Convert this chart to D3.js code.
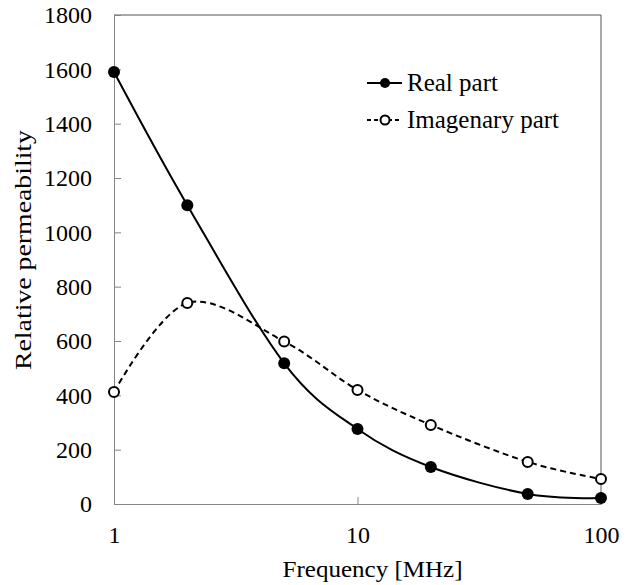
<!DOCTYPE html>
<html>
<head>
<meta charset="utf-8">
<script src="https://cdn.jsdelivr.net/npm/d3@7"></script>
<style>
  body { margin: 0; background: #fff; }
  svg { display: block; }
</style>
</head>
<body>
<div id="chart"></div>
<script>
const freqs = [1, 2, 5, 10, 20, 50, 100]
const realPart = [1590, 1100, 518, 276, 136, 37, 22]
const imagPart = [412, 740, 598, 420, 291, 155, 92]
const yTicks = [0, 200, 400, 600, 800, 1000, 1200, 1400, 1600, 1800]
const xTicks = [1, 10, 100]
const seriesNames = ['Real part', 'Imagenary part']

const width = 636
const height = 585
const plotLeft = 114
const plotRight = 601
const plotTop = 15
const plotBottom = 504
const fontSize = 24
const serif = 'Liberation Serif'

const svg = d3
  .select('#chart')
  .append('svg')
  .attr('width', width)
  .attr('height', height)
  .attr('font-family', serif)

const xScale = d3.scaleLog().domain([1, 100]).range([plotLeft, plotRight])
const yScale = d3.scaleLinear().domain([0, 1800]).range([plotBottom, plotTop])

// frame
svg
  .append('path')
  .attr('d', `M${plotLeft},${plotTop}H${plotRight}V${plotBottom}`)
  .attr('fill', 'none')
  .attr('stroke', '#555')
  .attr('stroke-width', 1)

// y axis
svg
  .append('g')
  .attr('class', 'y-axis')
  .attr('transform', `translate(${plotLeft}, 0)`)
  .call(d3.axisRight(yScale).tickValues(yTicks).tickSize(7).tickFormat(d3.format('d')))
  .attr('font-family', serif)
  .attr('font-size', fontSize)
  .call(g => {
    g.select('.domain').attr('stroke', '#868686')
    g.selectAll('.tick line').attr('stroke', '#868686')
    g.selectAll('.tick text')
      .attr('x', -22)
      .attr('text-anchor', 'end')
      .attr('fill', '#000')
  })

// x axis
svg
  .append('g')
  .attr('class', 'x-axis')
  .attr('transform', `translate(0, ${plotBottom})`)
  .call(d3.axisTop(xScale).tickValues(xTicks).tickSize(7).tickFormat(d3.format('d')))
  .attr('font-family', serif)
  .attr('font-size', fontSize)
  .call(g => {
    g.select('.domain').attr('stroke', '#868686')
    g.selectAll('.tick line').attr('stroke', '#868686')
    g.selectAll('.tick text')
      .attr('y', 39)
      .attr('dy', 0)
      .attr('fill', '#000')
  })

// axis titles
svg
  .append('text')
  .attr('transform', `translate(${xScale(10) + 15}, 577)`)
  .attr('text-anchor', 'middle')
  .attr('font-family', serif)
  .attr('font-size', fontSize)
  .attr('textLength', 180)
  .attr('lengthAdjust', 'spacingAndGlyphs')
  .text('Frequency [MHz]')

svg
  .append('text')
  .attr('transform', `translate(31, 250) rotate(-90)`)
  .attr('text-anchor', 'middle')
  .attr('font-family', serif)
  .attr('font-size', fontSize)
  .attr('textLength', 240)
  .attr('lengthAdjust', 'spacingAndGlyphs')
  .text('Relative permeability')

const line = d3
  .line()
  .x(d => xScale(d[0]))
  .y(d => yScale(d[1]))
  .curve(d3.curveCatmullRom.alpha(0))

const realData = freqs.map((f, i) => [f, realPart[i]])
const imagData = freqs.map((f, i) => [f, imagPart[i]])

svg
  .append('path')
  .attr('d', line(imagData))
  .attr('fill', 'none')
  .attr('stroke', '#000')
  .attr('stroke-width', 2)
  .attr('stroke-dasharray', '6 4')

svg
  .append('path')
  .attr('d', line(realData))
  .attr('fill', 'none')
  .attr('stroke', '#000')
  .attr('stroke-width', 2)

svg
  .selectAll('circle.imag')
  .data(imagData)
  .join('circle')
  .attr('class', 'imag')
  .attr('cx', d => xScale(d[0]))
  .attr('cy', d => yScale(d[1]))
  .attr('r', 5)
  .attr('fill', '#fff')
  .attr('stroke', '#000')
  .attr('stroke-width', 2)

svg
  .selectAll('circle.real')
  .data(realData)
  .join('circle')
  .attr('class', 'real')
  .attr('cx', d => xScale(d[0]))
  .attr('cy', d => yScale(d[1]))
  .attr('r', 6)
  .attr('fill', '#000')

// legend
const legend = svg.append('g').attr('transform', 'translate(367, 83)')
seriesNames.forEach((name, i) => {
  const g = legend.append('g').attr('transform', `translate(0, ${i * 37})`)
  g.append('line')
    .attr('x1', 0)
    .attr('x2', 35)
    .attr('stroke', '#000')
    .attr('stroke-width', 2)
    .attr('stroke-dasharray', i === 0 ? null : '4 3')
  g.append('circle')
    .attr('cx', 18)
    .attr('r', i === 0 ? 5 : 4.5)
    .attr('fill', i === 0 ? '#000' : '#fff')
    .attr('stroke', '#000')
    .attr('stroke-width', i === 0 ? 0 : 2)
  g.append('text')
    .attr('x', 40)
    .attr('y', 8)
    .attr('font-family', serif)
    .attr('font-size', 25)
    .text(name)
})
</script>
</body>
</html>
